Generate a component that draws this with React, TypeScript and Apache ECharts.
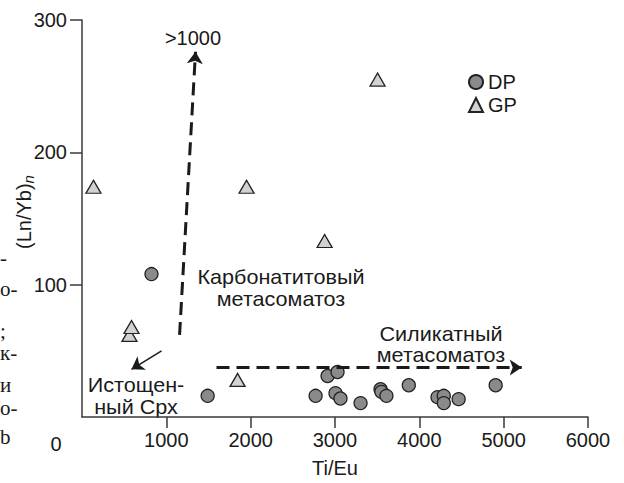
import React, { useEffect, useRef } from "react";
import * as echarts from "echarts";

// DP (circles)
const dpX = [824, 1490, 2770, 2912, 3030, 3006, 3065, 3303, 3540, 3550, 3610, 3875, 4216, 4290, 4290, 4466, 4905];
const dpY = [108, 16, 16, 31, 34, 18, 14, 10.5, 21, 19, 16, 24, 15, 16, 10.5, 13.5, 24];
// GP (triangles)
const gpX = [136, 563, 587, 1845, 1951, 2877, 3505];
const gpY = [174, 62, 68, 28, 174, 133, 255];

const xTicks = [1000, 2000, 3000, 4000, 5000, 6000];
const yTicks = [100, 200, 300];

// annotation arrows in data coordinates: [x1, y1, x2, y2]
const carbArrow = [1157, 62, 1346, 276];
const silArrow = [1595, 37.4, 5214, 37.4];
const depArrow = [943, 50, 587, 36];

const FONT = "Liberation Sans, Arial, Helvetica, sans-serif";
const SERIF = "Liberation Serif, DejaVu Serif, serif";
const INK = "#1a1a1a";

export default function App() {
  const ref = useRef<HTMLDivElement>(null);
  useEffect(() => {
    if (!ref.current) return;
    const chart = echarts.init(ref.current, undefined, { renderer: "svg" });
    const axisLine = { lineStyle: { color: "#3a3a3a", width: 1.5 } };
    const axisTick = { show: true, length: 11, lineStyle: { color: "#3a3a3a", width: 1.5 } };
    const seg = (a: number[]) => [{ coord: [a[0], a[1]] }, { coord: [a[2], a[3]] }];
    const ttext = (x: number, y: number, text: string, sx = 1.08) => ({
      type: "text",
      x,
      y,
      scaleX: sx,
      style: {
        text,
        fontSize: 20,
        fontFamily: FONT,
        fill: INK,
        align: "center",
        verticalAlign: "middle",
      },
      silent: true,
    });
    const serif = (y: number, text: string) => ({
      type: "text",
      x: 0,
      y,
      style: {
        text,
        fontSize: 21,
        fontFamily: SERIF,
        fill: INK,
        align: "left",
        verticalAlign: "middle",
      },
      silent: true,
    });
    const lbl = { fontSize: 20, fontFamily: FONT, color: INK };
    chart.setOption({
      animation: false,
      backgroundColor: "#fff",
      grid: { left: 82, right: 36, top: 20, bottom: 62, containLabel: false },
      xAxis: {
        type: "value",
        min: 0,
        max: 6000,
        interval: 1000,
        name: "Ti/Eu",
        nameLocation: "middle",
        nameGap: 41,
        nameTextStyle: lbl,
        splitLine: { show: false },
        axisLine,
        axisTick: { ...axisTick, customValues: xTicks },
        axisLabel: { ...lbl, customValues: xTicks, margin: 13, formatter: (v: number) => String(v) },
      },
      yAxis: {
        type: "value",
        min: 0,
        max: 300,
        interval: 100,
        splitLine: { show: false },
        axisLine: { show: true, ...axisLine },
        axisTick: { ...axisTick, length: 12, customValues: yTicks },
        axisLabel: { ...lbl, customValues: yTicks, margin: 15, formatter: (v: number) => String(v) },
      },
      legend: {
        orient: "vertical",
        left: 468,
        top: 72,
        padding: 0,
        itemWidth: 14,
        itemHeight: 14,
        itemGap: 3,
        data: ["DP", "GP"],
        textStyle: { ...lbl },
        selectedMode: false,
      },
      series: [
        {
          name: "DP",
          type: "scatter",
          symbol: "circle",
          symbolSize: 13,
          itemStyle: { color: "#8a8a8a", borderColor: "#222", borderWidth: 1.3, opacity: 1 },
          data: dpX.map((x, i) => [x, dpY[i]]),
          silent: true,
        },
        {
          name: "GP",
          type: "scatter",
          symbol: "triangle",
          symbolSize: [15, 13],
          itemStyle: { color: "#d2d2d2", borderColor: "#222", borderWidth: 1.3, opacity: 1 },
          data: gpX.map((x, i) => [x, gpY[i]]),
          silent: true,
        },
        {
          name: "arrows",
          type: "scatter",
          data: [],
          silent: true,
          markLine: {
            silent: true,
            animation: false,
            symbol: ["none", "arrow"],
            symbolSize: 12,
            label: { show: false },
            emphasis: { disabled: true },
            lineStyle: { color: INK, width: 3, type: [13, 7] },
            data: [
              seg(carbArrow),
              seg(silArrow),
              [
                { coord: [depArrow[0], depArrow[1]], lineStyle: { type: "solid", width: 1.5 }, symbolSize: 8 },
                { coord: [depArrow[2], depArrow[3]] },
              ],
            ],
          },
        },
      ],
      graphic: [
        ttext(193, 38, ">1000", 1),
        ttext(281, 277, "Карбонатитовый"),
        ttext(281, 299, "метасоматоз"),
        ttext(441, 334, "Силикатный"),
        ttext(441, 355, "метасоматоз"),
        ttext(136, 385, "Истощен-"),
        ttext(136, 407, "ный Срх"),
        ttext(56, 444, "0", 1),
        {
          type: "text",
          x: 24,
          y: 212,
          rotation: Math.PI / 2,
          style: {
            text: "{a|(Ln/Yb)}{b|n}",
            align: "center",
            verticalAlign: "middle",
            fill: INK,
            rich: {
              a: { fontSize: 20, fontFamily: FONT, fill: INK },
              b: { fontSize: 15, fontFamily: FONT, fontStyle: "italic", fill: INK, verticalAlign: "bottom", padding: [9, 0, 0, 0] },
            },
          },
          silent: true,
        },
        serif(258, "-"),
        serif(289, "о-"),
        serif(331, ";"),
        serif(353, "к-"),
        serif(385, "и"),
        serif(408, "о-"),
        serif(437, "b"),
      ],
    });
    return () => chart.dispose();
  }, []);
  return <div ref={ref} style={{ position: "fixed", left: 0, top: 0, width: 624, height: 483 }} />;
}
